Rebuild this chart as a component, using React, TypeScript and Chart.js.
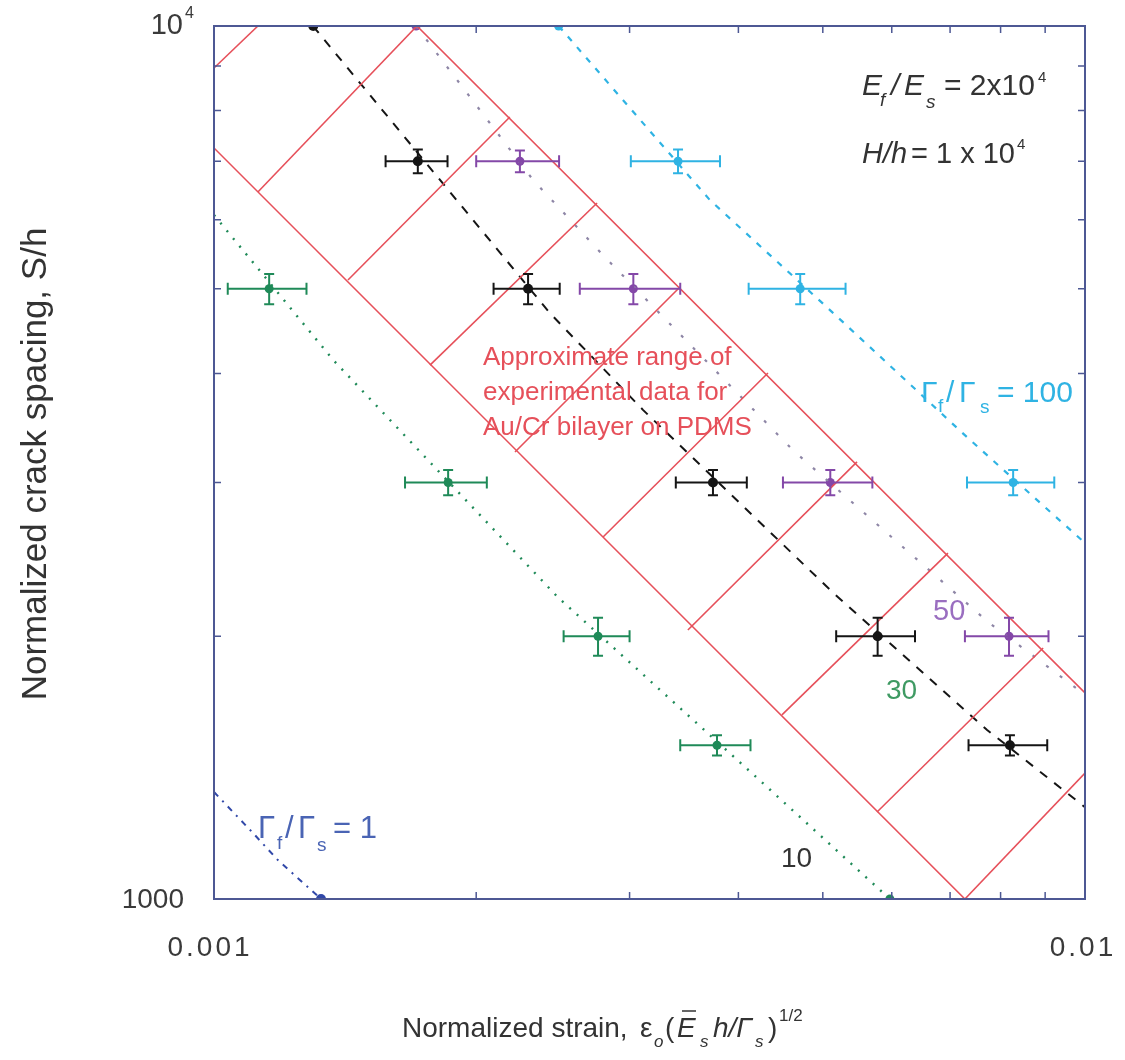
import React, { useEffect, useRef } from 'react';
import { Chart, registerables } from 'chart.js';

Chart.register(...registerables);

// ---------- axis ticks ----------
const xTickValues = [0.001, 0.002, 0.003, 0.004, 0.005, 0.006, 0.007, 0.008, 0.009, 0.01];
const yTickValues = [1000, 2000, 3000, 4000, 5000, 6000, 7000, 8000, 9000, 10000];
const xMajorLabels = ['0.001', '0.01'];
const yMajorLabels = ['1000', '10'];

// ---------- theory curves (Γf/Γs) ----------
const curve100X = [2.487e-3, 3.71e-3, 5.14e-3, 7.32e-3, 1.0e-2];
const curve100Y = [10000, 6318, 4690, 3381, 2557];
const curve50X = [1.706e-3, 2.324e-3, 2.81e-3, 4.62e-3, 7.74e-3, 1.0e-2];
const curve50Y = [10000, 6664, 5437, 3267, 2076, 1714];
const curve30X = [1.299e-3, 2.43e-3, 3.11e-3, 5.14e-3, 7.72e-3, 1.0e-2];
const curve30Y = [10000, 4690, 3631, 2242, 1562, 1274];
const curve10X = [1.0e-3, 1.37e-3, 2.48e-3, 4.35e-3, 5.97e-3];
const curve10Y = [6075, 4145, 2218, 1334, 1000];
const curve1X = [1.0e-3, 1.106e-3, 1.184e-3, 1.327e-3];
const curve1Y = [1326, 1193, 1108, 1000];

// ---------- simulated points with error bars ----------
const p100X = [2.487e-3, 3.41e-3, 4.71e-3, 8.27e-3];
const p100Y = [10000, 7000, 5000, 3000];
const p100XErr = [0, 0.4e-3, 0.6e-3, 0.95e-3];
const p100YErr = [0, 220, 200, 100];

const p50X = [1.706e-3, 2.245e-3, 3.03e-3, 5.1e-3, 8.18e-3];
const p50Y = [10000, 7000, 5000, 3000, 2000];
const p50XErr = [0, 0.245e-3, 0.4e-3, 0.6e-3, 0.9e-3];
const p50YErr = [0, 200, 200, 100, 100];

const p30X = [1.3e-3, 1.714e-3, 2.294e-3, 3.74e-3, 5.78e-3, 8.2e-3];
const p30Y = [10000, 7000, 5000, 3000, 2000, 1500];
const p30XErr = [0, 0.14e-3, 0.2e-3, 0.35e-3, 0.6e-3, 0.85e-3];
const p30YErr = [0, 220, 200, 100, 100, 40];

const p10X = [1.157e-3, 1.857e-3, 2.76e-3, 3.78e-3, 5.97e-3];
const p10Y = [5000, 3000, 2000, 1500, 1000];
const p10XErr = [0.12e-3, 0.2e-3, 0.24e-3, 0.35e-3, 0];
const p10YErr = [200, 100, 100, 40, 0];

const p1X = [1.327e-3];
const p1Y = [1000];

// ---------- experimental range band ----------
const bandUpperX = [1.71e-3, 1.0e-2];
const bandUpperY = [10000, 1722];
const bandLowerX = [1.0e-3, 7.28e-3];
const bandLowerY = [7249, 1000];
const hatchX1 = [1.0e-3, 1.123e-3, 1.425e-3, 1.77e-3, 2.216e-3, 2.797e-3, 3.5e-3, 4.488e-3, 5.771e-3, 7.28e-3];
const hatchY1 = [8951, 6455, 5117, 4089, 3251, 2598, 2033, 1625, 1258, 1000];
const hatchX2 = [1.123e-3, 1.71e-3, 2.186e-3, 2.753e-3, 3.428e-3, 4.325e-3, 5.473e-3, 6.961e-3, 8.952e-3, 1.0e-2];
const hatchY2 = [10000, 10000, 7866, 6270, 5023, 4004, 3168, 2490, 1939, 1394];

// ---------- colours ----------
const RED = '#e6505a';
const BLACK = '#151515';
const PURPLE = '#8448a8';
const PURPLE_LINE = '#8e86a6';
const CYAN = '#2fb3e3';
const GREEN = '#1f8a58';
const BLUE = '#3148a8';
const AXIS = '#4d5894';
const FONT = '"Liberation Sans", Arial, sans-serif';

const pts = (xs: number[], ys: number[]) => xs.map((x, i) => ({ x, y: ys[i] }));

const lineDs = (xs: number[], ys: number[], color: string, dash: number[], width = 2) => ({
  type: 'scatter' as const,
  data: pts(xs, ys),
  showLine: true,
  borderColor: color,
  backgroundColor: color,
  borderWidth: width,
  borderDash: dash,
  pointRadius: 0,
  pointHoverRadius: 0,
  tension: 0,
});

const pointDs = (xs: number[], ys: number[], color: string, r = 4.5) => ({
  type: 'scatter' as const,
  data: pts(xs, ys),
  showLine: false,
  borderColor: color,
  backgroundColor: color,
  pointRadius: r,
  pointBorderWidth: 0,
});

const errorSeries = [
  { xs: p100X, ys: p100Y, xe: p100XErr, ye: p100YErr, color: CYAN },
  { xs: p50X, ys: p50Y, xe: p50XErr, ye: p50YErr, color: PURPLE },
  { xs: p30X, ys: p30Y, xe: p30XErr, ye: p30YErr, color: BLACK },
  { xs: p10X, ys: p10Y, xe: p10XErr, ye: p10YErr, color: GREEN },
];

type Part = { s: string; x: number; y: number; size: number; italic?: boolean; color: string };

function drawParts(ctx: CanvasRenderingContext2D, parts: Part[]) {
  parts.forEach((p) => {
    ctx.font = `${p.italic ? 'italic ' : ''}${p.size}px ${FONT}`;
    ctx.fillStyle = p.color;
    ctx.textAlign = 'left';
    ctx.textBaseline = 'alphabetic';
    ctx.fillText(p.s, p.x, p.y);
  });
}

const decorPlugin = {
  id: 'decor',
  afterDatasetsDraw(chart: any) {
    const { ctx, chartArea: a } = chart;
    const xs = chart.scales.x;
    const ys = chart.scales.y;
    ctx.save();
    ctx.beginPath();
    ctx.rect(a.left, a.top, a.right - a.left, a.bottom - a.top);
    ctx.clip();
    ctx.lineWidth = 2;
    errorSeries.forEach((s) => {
      ctx.strokeStyle = s.color;
      s.xs.forEach((xv, i) => {
        const cy = ys.getPixelForValue(s.ys[i]);
        const cx = xs.getPixelForValue(xv);
        if (s.xe[i] > 0) {
          const x1 = xs.getPixelForValue(xv - s.xe[i]);
          const x2 = xs.getPixelForValue(xv + s.xe[i]);
          ctx.beginPath();
          ctx.moveTo(x1, cy); ctx.lineTo(x2, cy);
          ctx.moveTo(x1, cy - 6); ctx.lineTo(x1, cy + 6);
          ctx.moveTo(x2, cy - 6); ctx.lineTo(x2, cy + 6);
          ctx.stroke();
        }
        if (s.ye[i] > 0) {
          const y1 = ys.getPixelForValue(s.ys[i] + s.ye[i]);
          const y2 = ys.getPixelForValue(s.ys[i] - s.ye[i]);
          ctx.beginPath();
          ctx.moveTo(cx, y1); ctx.lineTo(cx, y2);
          ctx.moveTo(cx - 5, y1); ctx.lineTo(cx + 5, y1);
          ctx.moveTo(cx - 5, y2); ctx.lineTo(cx + 5, y2);
          ctx.stroke();
        }
      });
    });
    ctx.restore();
  },
  afterDraw(chart: any) {
    const { ctx, chartArea: a } = chart;
    const xs = chart.scales.x;
    const ys = chart.scales.y;
    ctx.save();
    // frame
    ctx.strokeStyle = AXIS;
    ctx.lineWidth = 2;
    ctx.strokeRect(a.left, a.top, a.right - a.left, a.bottom - a.top);
    // inward ticks
    ctx.lineWidth = 1.5;
    ctx.beginPath();
    xTickValues.forEach((v) => {
      const px = xs.getPixelForValue(v);
      ctx.moveTo(px, a.bottom); ctx.lineTo(px, a.bottom - 7);
      ctx.moveTo(px, a.top); ctx.lineTo(px, a.top + 7);
    });
    yTickValues.forEach((v) => {
      const py = ys.getPixelForValue(v);
      ctx.moveTo(a.left, py); ctx.lineTo(a.left + 7, py);
      ctx.moveTo(a.right, py); ctx.lineTo(a.right - 7, py);
    });
    ctx.stroke();

    // tick labels
    ctx.fillStyle = '#3a3a3a';
    ctx.font = `28px ${FONT}`;
    ctx.textBaseline = 'alphabetic';
    (ctx as any).letterSpacing = '3px';
    ctx.textAlign = 'center';
    ctx.fillText(xMajorLabels[0], xs.getPixelForValue(xTickValues[0]) - 4, 956);
    ctx.fillText(xMajorLabels[1], xs.getPixelForValue(xTickValues[9]) - 2, 956);
    (ctx as any).letterSpacing = '0px';
    ctx.textAlign = 'right';
    ctx.fillText(yMajorLabels[0], a.left - 30, ys.getPixelForValue(yTickValues[0]) + 9);
    ctx.font = `29px ${FONT}`;
    ctx.fillText(yMajorLabels[1], a.left - 31, ys.getPixelForValue(yTickValues[9]) + 8);
    ctx.font = `16px ${FONT}`;
    ctx.textAlign = 'left';
    ctx.fillText('4', a.left - 29, ys.getPixelForValue(yTickValues[9]) - 8);

    // axis titles
    ctx.fillStyle = '#333';
    ctx.save();
    ctx.translate(46, 464);
    ctx.rotate(-Math.PI / 2);
    ctx.font = `35px ${FONT}`;
    ctx.textAlign = 'center';
    ctx.fillText('Normalized crack spacing, S/h', 0, 0);
    ctx.restore();

    const T = '#333';
    drawParts(ctx, [
      { s: 'Normalized strain,', x: 402, y: 1037, size: 28, color: T },
      { s: 'ε', x: 640, y: 1037, size: 28, color: T },
      { s: 'o', x: 654, y: 1047, size: 17, italic: true, color: T },
      { s: '(', x: 665, y: 1037, size: 28, color: T },
      { s: 'E', x: 677, y: 1037, size: 28, italic: true, color: T },
      { s: 's', x: 700, y: 1047, size: 17, italic: true, color: T },
      { s: 'h/Γ', x: 713, y: 1037, size: 28, italic: true, color: T },
      { s: 's', x: 755, y: 1047, size: 17, italic: true, color: T },
      { s: ')', x: 768, y: 1037, size: 28, color: T },
      { s: '1/2', x: 779, y: 1021, size: 17, color: T },
    ]);
    // bar over E
    ctx.strokeStyle = T;
    ctx.lineWidth = 1.5;
    ctx.beginPath();
    ctx.moveTo(682, 1011); ctx.lineTo(696, 1011);
    ctx.stroke();

    // parameter annotations
    drawParts(ctx, [
      { s: 'E', x: 862, y: 95, size: 30, italic: true, color: T },
      { s: 'f', x: 880, y: 106, size: 19, italic: true, color: T },
      { s: '/', x: 891, y: 95, size: 30, italic: true, color: T },
      { s: 'E', x: 904, y: 95, size: 30, italic: true, color: T },
      { s: 's', x: 926, y: 108, size: 19, italic: true, color: T },
      { s: '= 2x10', x: 944, y: 95, size: 30, color: T },
      { s: '4', x: 1038, y: 82, size: 15, color: T },
      { s: 'H/h', x: 862, y: 163, size: 29, italic: true, color: T },
      { s: '= 1 x 10', x: 911, y: 163, size: 29, color: T },
      { s: '4', x: 1017, y: 149, size: 15, color: T },
    ]);

    // band label
    drawParts(ctx, [
      { s: 'Approximate range of', x: 483, y: 365, size: 26, color: RED },
      { s: 'experimental data for', x: 483, y: 400, size: 26, color: RED },
      { s: 'Au/Cr bilayer on PDMS', x: 483, y: 435, size: 26, color: RED },
    ]);

    // curve labels
    drawParts(ctx, [
      { s: 'Γ', x: 921, y: 402, size: 30, color: CYAN },
      { s: 'f', x: 938, y: 412, size: 19, color: CYAN },
      { s: '/', x: 946, y: 402, size: 30, color: CYAN },
      { s: 'Γ', x: 959, y: 402, size: 30, color: CYAN },
      { s: 's', x: 980, y: 413, size: 19, color: CYAN },
      { s: '= 100', x: 997, y: 402, size: 30, color: CYAN },
      { s: '50', x: 933, y: 620, size: 29, color: '#9a6ec0' },
      { s: '30', x: 886, y: 699, size: 28, color: '#3f9a63' },
      { s: '10', x: 781, y: 867, size: 28, color: '#333' },
      { s: 'Γ', x: 258, y: 838, size: 31, color: '#4a64b4' },
      { s: 'f', x: 277, y: 849, size: 19, color: '#4a64b4' },
      { s: '/', x: 285, y: 838, size: 31, color: '#4a64b4' },
      { s: 'Γ', x: 298, y: 838, size: 31, color: '#4a64b4' },
      { s: 's', x: 317, y: 851, size: 19, color: '#4a64b4' },
      { s: '= 1', x: 333, y: 838, size: 31, color: '#4a64b4' },
    ]);
    ctx.restore();
  },
};

export default function App() {
  const ref = useRef<HTMLCanvasElement>(null);
  useEffect(() => {
    const canvas = ref.current;
    if (!canvas) return;
    const datasets: any[] = [
      lineDs(bandUpperX, bandUpperY, RED, [], 1.6),
      lineDs(bandLowerX, bandLowerY, RED, [], 1.6),
      ...hatchX1.map((_, i) =>
        lineDs([hatchX1[i], hatchX2[i]], [hatchY1[i], hatchY2[i]], RED, [], 1.6)
      ),
      lineDs(curve100X, curve100Y, CYAN, [6, 8], 2.2),
      lineDs(curve50X, curve50Y, PURPLE_LINE, [3, 14], 2.2),
      lineDs(curve30X, curve30Y, BLACK, [9, 9], 2),
      lineDs(curve10X, curve10Y, GREEN, [2, 8], 2.4),
      lineDs(curve1X, curve1Y, BLUE, [6, 6, 2, 6], 2),
      pointDs(p100X, p100Y, CYAN, 4.5),
      pointDs(p50X, p50Y, PURPLE, 4.5),
      pointDs(p30X, p30Y, BLACK, 5),
      pointDs(p10X, p10Y, GREEN, 4.5),
      pointDs(p1X, p1Y, BLUE, 5),
    ];
    const chart = new Chart(canvas, {
      type: 'scatter',
      data: { datasets },
      options: {
        responsive: false,
        animation: false,
        devicePixelRatio: 1,
        layout: { padding: { left: 214, right: 40, top: 26, bottom: 161 } },
        plugins: { legend: { display: false }, tooltip: { enabled: false } },
        events: [],
        scales: {
          x: { type: 'logarithmic', min: 0.001, max: 0.01, display: false },
          y: { type: 'logarithmic', min: 1000, max: 10000, display: false },
        },
      },
      plugins: [decorPlugin],
    });
    return () => chart.destroy();
  }, []);
  return (
    <div style={{ position: 'fixed', left: 0, top: 0, width: 1125, height: 1060, background: '#fff' }}>
      <canvas ref={ref} width={1125} height={1060} style={{ display: 'block', width: 1125, height: 1060 }} />
    </div>
  );
}
